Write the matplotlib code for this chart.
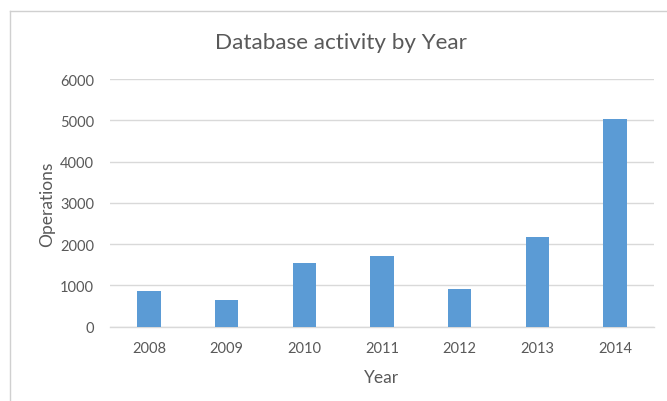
import numpy as np
import matplotlib
matplotlib.use('Agg')
from matplotlib import pyplot as plt
from matplotlib.lines import Line2D

years = ['2008', '2009', '2010', '2011', '2012', '2013', '2014']
operations = [870, 650, 1550, 1710, 910, 2180, 5030]
y_ticks = [0, 1000, 2000, 3000, 4000, 5000, 6000]

text_grey = '#595959'
bar_blue = '#5B9BD5'
grid_grey = '#D9D9D9'

plt.rcParams['font.family'] = ['Lato', 'DejaVu Sans']

fig = plt.figure(figsize=(6.67, 4.02), dpi=100)
ax = fig.add_axes([110 / 667, 1 - 327.7 / 402, (654 - 110) / 667, (327.7 - 80) / 402])

x = np.arange(len(years))
ax.bar(x, operations, width=0.3, color=bar_blue, zorder=3)

ax.set_xlim(-0.5, len(years) - 0.5)
ax.set_ylim(0, 6000)
ax.set_yticks(y_ticks)
ax.set_xticks(x)
ax.set_xticklabels(years)
ax.yaxis.grid(True, color=grid_grey, linewidth=1.0, zorder=0)
ax.tick_params(axis='both', length=0, labelsize=10.5, colors=text_grey)
ax.tick_params(axis='y', pad=11.5)
ax.tick_params(axis='x', pad=10.5)
for side in ['top', 'right', 'left']:
    ax.spines[side].set_visible(False)
ax.spines['bottom'].set_color(grid_grey)
ax.spines['bottom'].set_linewidth(1.0)

# axis titles placed where Excel put them
fig.text(382 / 667, 1 - 378 / 402, 'Year', ha='center', va='center',
         fontsize=12.5, color=text_grey)
fig.text(47 / 667, 1 - 204 / 402, 'Operations', ha='center', va='center',
         rotation=90, fontsize=12.5, color=text_grey)

fig.text(341 / 667, 1 - 43 / 402, 'Database activity by Year', ha='center', va='center',
         fontsize=16.2, color=text_grey)

# chart area border (only top and left edges show in the crop)
fig.add_artist(Line2D([10 / 667, 10 / 667], [0, 1 - 12 / 402], transform=fig.transFigure,
                      color='#D0D0D0', linewidth=1.0))
fig.add_artist(Line2D([10 / 667, 1], [1 - 12 / 402, 1 - 12 / 402], transform=fig.transFigure,
                      color='#D0D0D0', linewidth=1.0))

fig.savefig('out.png', dpi=100)
